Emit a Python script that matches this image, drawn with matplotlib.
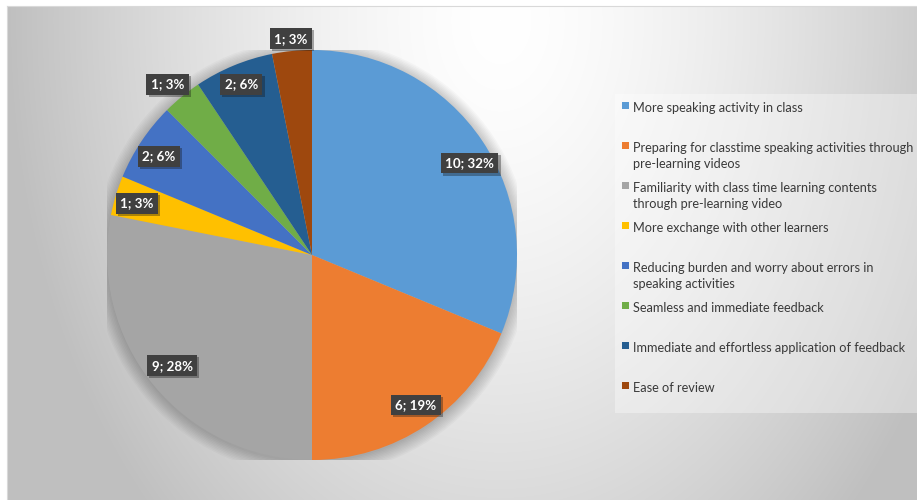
import numpy as np
import matplotlib
matplotlib.use("Agg")
import matplotlib.pyplot as plt
from matplotlib.patches import Rectangle, Circle
from matplotlib import patheffects as pe

plt.rcParams["font.family"] = ["Lato", "DejaVu Sans"]

# ---- data ----
labels = [
    "More speaking activity in class",
    "Preparing for classtime speaking activities through\npre-learning videos",
    "Familiarity with class time learning contents\nthrough pre-learning video",
    "More exchange with other learners",
    "Reducing burden and worry about errors in\nspeaking activities",
    "Seamless and immediate feedback",
    "Immediate and effortless application of feedback",
    "Ease of review",
]
counts = [10, 6, 9, 1, 2, 1, 2, 1]
pcts = [32, 19, 28, 3, 6, 3, 6, 3]

colors = ["#5B9BD5", "#ED7D31", "#A5A5A5", "#FFC000",
          "#4472C4", "#70AD47", "#255E91", "#9E480E"]

# label placement (style): radius factor and angular nudge (deg, ccw)
lab_r = [0.89, 0.89, 0.87, 0.89, 0.89, 1.09, 0.90, 1.06]
lab_shift = [-3.5, 1.0, -1.0, 0.5, 1.0, 0.9, 0.0, -0.1]

W, H = 917, 500
fig = plt.figure(figsize=(W / 100, H / 100), dpi=100)
fig.patch.set_facecolor("white")

# ---- chart area gradient ----
bg = fig.add_axes([7 / W, 0, 910 / W, 494 / H])
xs = np.arange(7, 917)
ys = np.arange(6, 500)
X, Y = np.meshgrid(xs, ys)
r = np.sqrt(((X - 500) / 480.0) ** 2 + ((Y - 20) / 680.0) ** 2)
val = np.clip(1 - 0.24 * r ** 1.5, 0.75, 1)
bg.imshow(np.dstack([val, val, val]), aspect="auto", interpolation="bilinear")
bg.set_xticks([]); bg.set_yticks([])
for s in bg.spines.values():
    s.set_color("#d9d9d9"); s.set_linewidth(0.8)
bg.spines["right"].set_visible(False)
bg.spines["bottom"].set_visible(False)

# ---- pie ----
cx, cy, R = 312, 255, 205
ax = fig.add_axes([(cx - R) / W, (H - cy - R) / H, 2 * R / W, 2 * R / H])
ax.set_facecolor("none")
for k in range(10):
    ax.add_patch(Circle((0, -0.01), 1 + 0.007 * k, fc="black", ec="none",
                        alpha=0.022, zorder=0))
wedges, _ = ax.pie(counts, colors=colors, startangle=90, counterclock=False,
                   radius=1, wedgeprops=dict(linewidth=0, zorder=2))
for w, c, p, rr, sh in zip(wedges, counts, pcts, lab_r, lab_shift):
    mid = np.deg2rad((w.theta1 + w.theta2) / 2 + sh)
    t = ax.text(rr * np.cos(mid), rr * np.sin(mid), f"{c}; {p}%",
                ha="center", va="center", color="white", fontsize=9.6,
                fontweight="bold", zorder=5,
                bbox=dict(boxstyle="square,pad=0.33", fc="#404040", ec="none"))
    t.get_bbox_patch().set_path_effects(
        [pe.withSimplePatchShadow(offset=(1.5, -1.5), alpha=0.35)])
ax.set_xlim(-1, 1); ax.set_ylim(-1, 1)
ax.set_aspect("equal")
ax.axis("off")

# ---- legend ----
fig.patches.append(Rectangle((615 / W, (H - 413) / H), (W - 615) / W, 319 / H,
                             transform=fig.transFigure, fc="white", alpha=0.35,
                             ec="none", zorder=1))
for i, (lab, col) in enumerate(zip(labels, colors)):
    yc = 105 + i * 40
    fig.patches.append(Rectangle((622 / W, (H - yc - 3.5) / H), 7 / W, 7 / H,
                                 transform=fig.transFigure, fc=col, ec="none",
                                 zorder=2))
    fig.text(633 / W, (H - yc + 3.5) / H, lab, ha="left", va="top",
             fontsize=9.2, color="#3a3a3a", linespacing=1.5, zorder=3)

fig.savefig("out.png", dpi=100, facecolor="white")
